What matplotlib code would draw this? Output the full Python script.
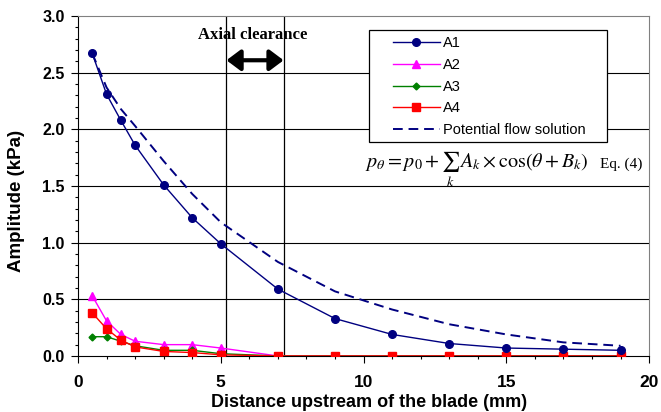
import matplotlib
matplotlib.use("Agg")
import matplotlib.pyplot as plt
from matplotlib.patches import Rectangle
from matplotlib.ticker import FormatStrFormatter, MultipleLocator

# distance upstream of the blade (mm)
x_pts = [0.5, 1, 1.5, 2, 3, 4, 5, 7, 9, 11, 13, 15, 17, 19]

a1 = [2.67, 2.31, 2.08, 1.86, 1.51, 1.22, 0.99, 0.59, 0.33, 0.19, 0.11, 0.07, 0.06, 0.05]
a2 = [0.53, 0.31, 0.19, 0.13, 0.10, 0.10, 0.07, 0.0, 0.0, 0.0, 0.0, 0.0, 0.0, 0.0]
a3 = [0.17, 0.17, 0.13, 0.09, 0.05, 0.05, 0.02, 0.0, 0.0, 0.0, 0.0, 0.0, 0.0, 0.0]
a4 = [0.38, 0.24, 0.14, 0.08, 0.04, 0.03, 0.01, 0.0, 0.0, 0.0, 0.0, 0.0, 0.0, 0.0]
potential = [2.67, 2.37, 2.18, 2.03, 1.72, 1.43, 1.18, 0.83, 0.57, 0.41, 0.28, 0.19, 0.12, 0.09]

clearance = [5.2, 7.2]

plt.rcParams["font.family"] = ["Liberation Sans", "DejaVu Sans"]
plt.rcParams["mathtext.fontset"] = "stix"

fig = plt.figure(figsize=(6.61, 4.12), dpi=100)
ax = fig.add_axes([0.118, 0.136, 0.864, 0.825])

for yv in [0.5, 1.0, 1.5, 2.0, 2.5]:
    ax.axhline(yv, color="black", lw=0.8, zorder=1)
for xv in clearance:
    ax.axvline(xv, color="black", lw=0.9, zorder=1)

ax.plot(x_pts, a1, color="#000080", lw=1.0, marker="o", ms=5.5, label="A1", zorder=4)
ax.plot(x_pts, a2, color="#FF00FF", lw=1.0, marker="^", ms=5.5, label="A2", zorder=3)
ax.plot(x_pts, a3, color="#008000", lw=1.0, marker="D", ms=3.5, label="A3", zorder=3)
ax.plot(x_pts, a4, color="#FF0000", lw=1.0, marker="s", ms=5.5, label="A4", zorder=3)
ax.plot(x_pts, potential, color="#000080", lw=1.4, ls=(0, (5, 3)),
        label="Potential flow solution", zorder=3)

# axial clearance arrow
ax.annotate("", xy=(clearance[0], 2.61), xytext=(clearance[1], 2.61),
            arrowprops=dict(arrowstyle="<|-|>,head_length=0.6,head_width=0.45",
                            color="black", lw=3, mutation_scale=14,
                            shrinkA=0, shrinkB=0))
ax.text(sum(clearance) / 2 - 0.07, 2.83, "Axial clearance", ha="center", va="center",
        fontsize=12, fontweight="bold", family=["Liberation Serif"])

ax.text(0.502, 0.553, r"$p_\theta = p_0 + \sum_k\, A_k \times \cos\!\left(\theta + B_k\right)$",
        transform=ax.transAxes, ha="left", va="baseline", fontsize=14.5, color="black")
ax.text(0.988, 0.553, "Eq. (4)", transform=ax.transAxes, ha="right", va="baseline",
        fontsize=11, family=["Liberation Serif"], color="black")

# legend box drawn by hand (wide left padding)
ax.add_patch(Rectangle((0.5096, 0.629), 0.4168, 0.330, transform=ax.transAxes,
                       facecolor="white", edgecolor="black", lw=0.9, zorder=5))
leg = ax.legend(loc="upper left", bbox_to_anchor=(0.5517, 0.94), fontsize=10.5,
                frameon=False, handlelength=3.2, borderpad=0,
                labelspacing=0.52, handletextpad=0.2, borderaxespad=0)
leg.set_zorder(6)

ax.set_xlim(0, 20)
ax.set_ylim(0, 3.0)
ax.xaxis.set_major_locator(MultipleLocator(5))
ax.xaxis.set_minor_locator(MultipleLocator(1))
ax.yaxis.set_major_locator(MultipleLocator(0.5))
ax.yaxis.set_minor_locator(MultipleLocator(0.1))
ax.yaxis.set_major_formatter(FormatStrFormatter("%.1f"))
ax.tick_params(which="both", direction="out", width=0.8)
ax.tick_params(which="major", length=5)
ax.tick_params(which="minor", length=2.5)
ax.tick_params(axis="y", labelsize=11.5, pad=4.5)
ax.tick_params(axis="x", labelsize=12.5, pad=9)
for lbl in ax.get_xticklabels() + ax.get_yticklabels():
    lbl.set_fontweight("bold")

for side in ["top", "right"]:
    ax.spines[side].set_color("#808080")
for side in ["left", "bottom"]:
    ax.spines[side].set_color("black")

ax.set_xlabel("Distance upstream of the blade (mm)", fontsize=13, fontweight="bold")
ax.set_ylabel("Amplitude (kPa)", fontsize=13.5, fontweight="bold")
ax.xaxis.set_label_coords(0.51, -0.113)
ax.yaxis.set_label_coords(-0.093, 0.456)

fig.savefig("out.png", dpi=100)
